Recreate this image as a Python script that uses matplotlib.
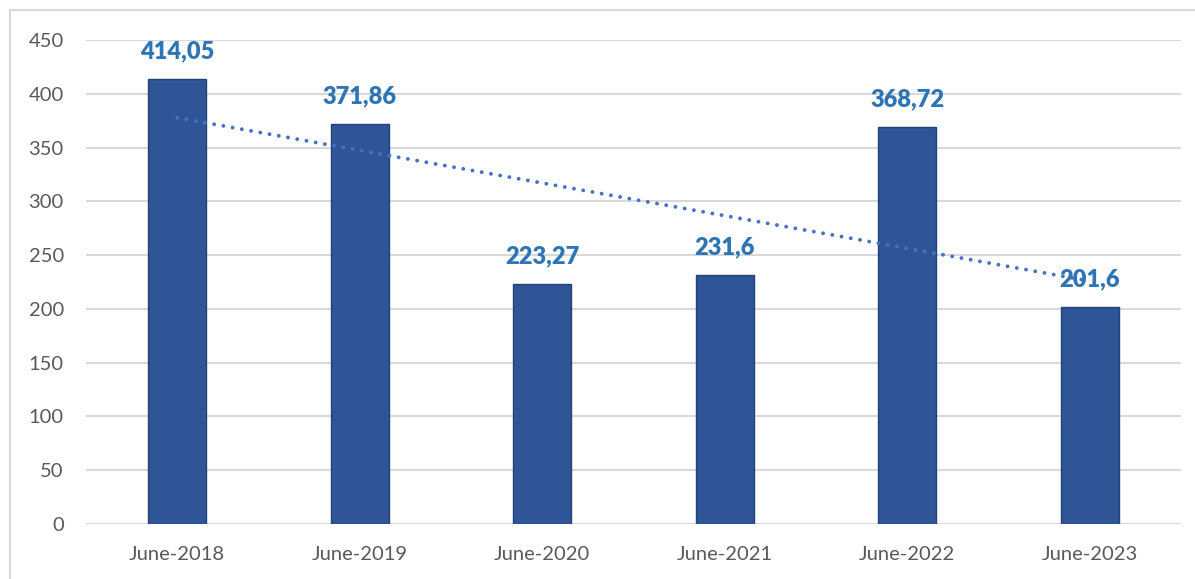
import numpy as np
from matplotlib import pyplot as plt
from matplotlib.patches import Rectangle

# monthly values, June of each year
periods = ['June-2018', 'June-2019', 'June-2020', 'June-2021', 'June-2022', 'June-2023']
values = [414.05, 371.86, 223.27, 231.6, 368.72, 201.6]
value_labels = ['414,05', '371,86', '223,27', '231,6', '368,72', '201,6']

plt.rcParams['font.family'] = ['Lato', 'DejaVu Sans']

fig = plt.figure(figsize=(11.95, 5.79), dpi=100)
ax = fig.add_axes([86 / 1195, 55 / 579, 1095 / 1195, 484 / 579])

x = np.arange(len(values))
ax.bar(x, values, width=0.32, color='#2F5597', edgecolor='#22437A', linewidth=1, zorder=2)

# linear trend over the six points
k, b = np.polyfit(x, values, 1)
ax.plot(x, k * x + b, linestyle=(0, (0.01, 2.4)), color='#4472C4', linewidth=2.8,
        dash_capstyle='round', zorder=3)

for xi, v, lab in zip(x, values, value_labels):
    ax.annotate(lab, (xi, v), xytext=(0, 12), textcoords='offset points',
                ha='center', va='bottom', fontsize=17, fontweight='heavy',
                color='#2E75B6', zorder=4)

ax.set_xlim(-0.5, len(values) - 0.5)
ax.set_ylim(0, 450)
ax.set_yticks(np.arange(0, 451, 50))
ax.set_xticks(x)
ax.set_xticklabels(periods)
ax.tick_params(axis='both', length=0, labelsize=14.5, colors='#595959')
ax.tick_params(axis='y', pad=16)
ax.tick_params(axis='x', pad=16)
ax.grid(axis='y', color='#D9D9D9', linewidth=1.5, zorder=0)
ax.set_axisbelow(True)
for s in ax.spines.values():
    s.set_visible(False)

# light frame round the chart area
fig.patches.append(Rectangle((10 / 1195, -0.05), 1.2, 1.05 - 10 / 579, transform=fig.transFigure,
                             fill=False, edgecolor='#D9D9D9', linewidth=1.5))

fig.savefig('out.png', dpi=100)
